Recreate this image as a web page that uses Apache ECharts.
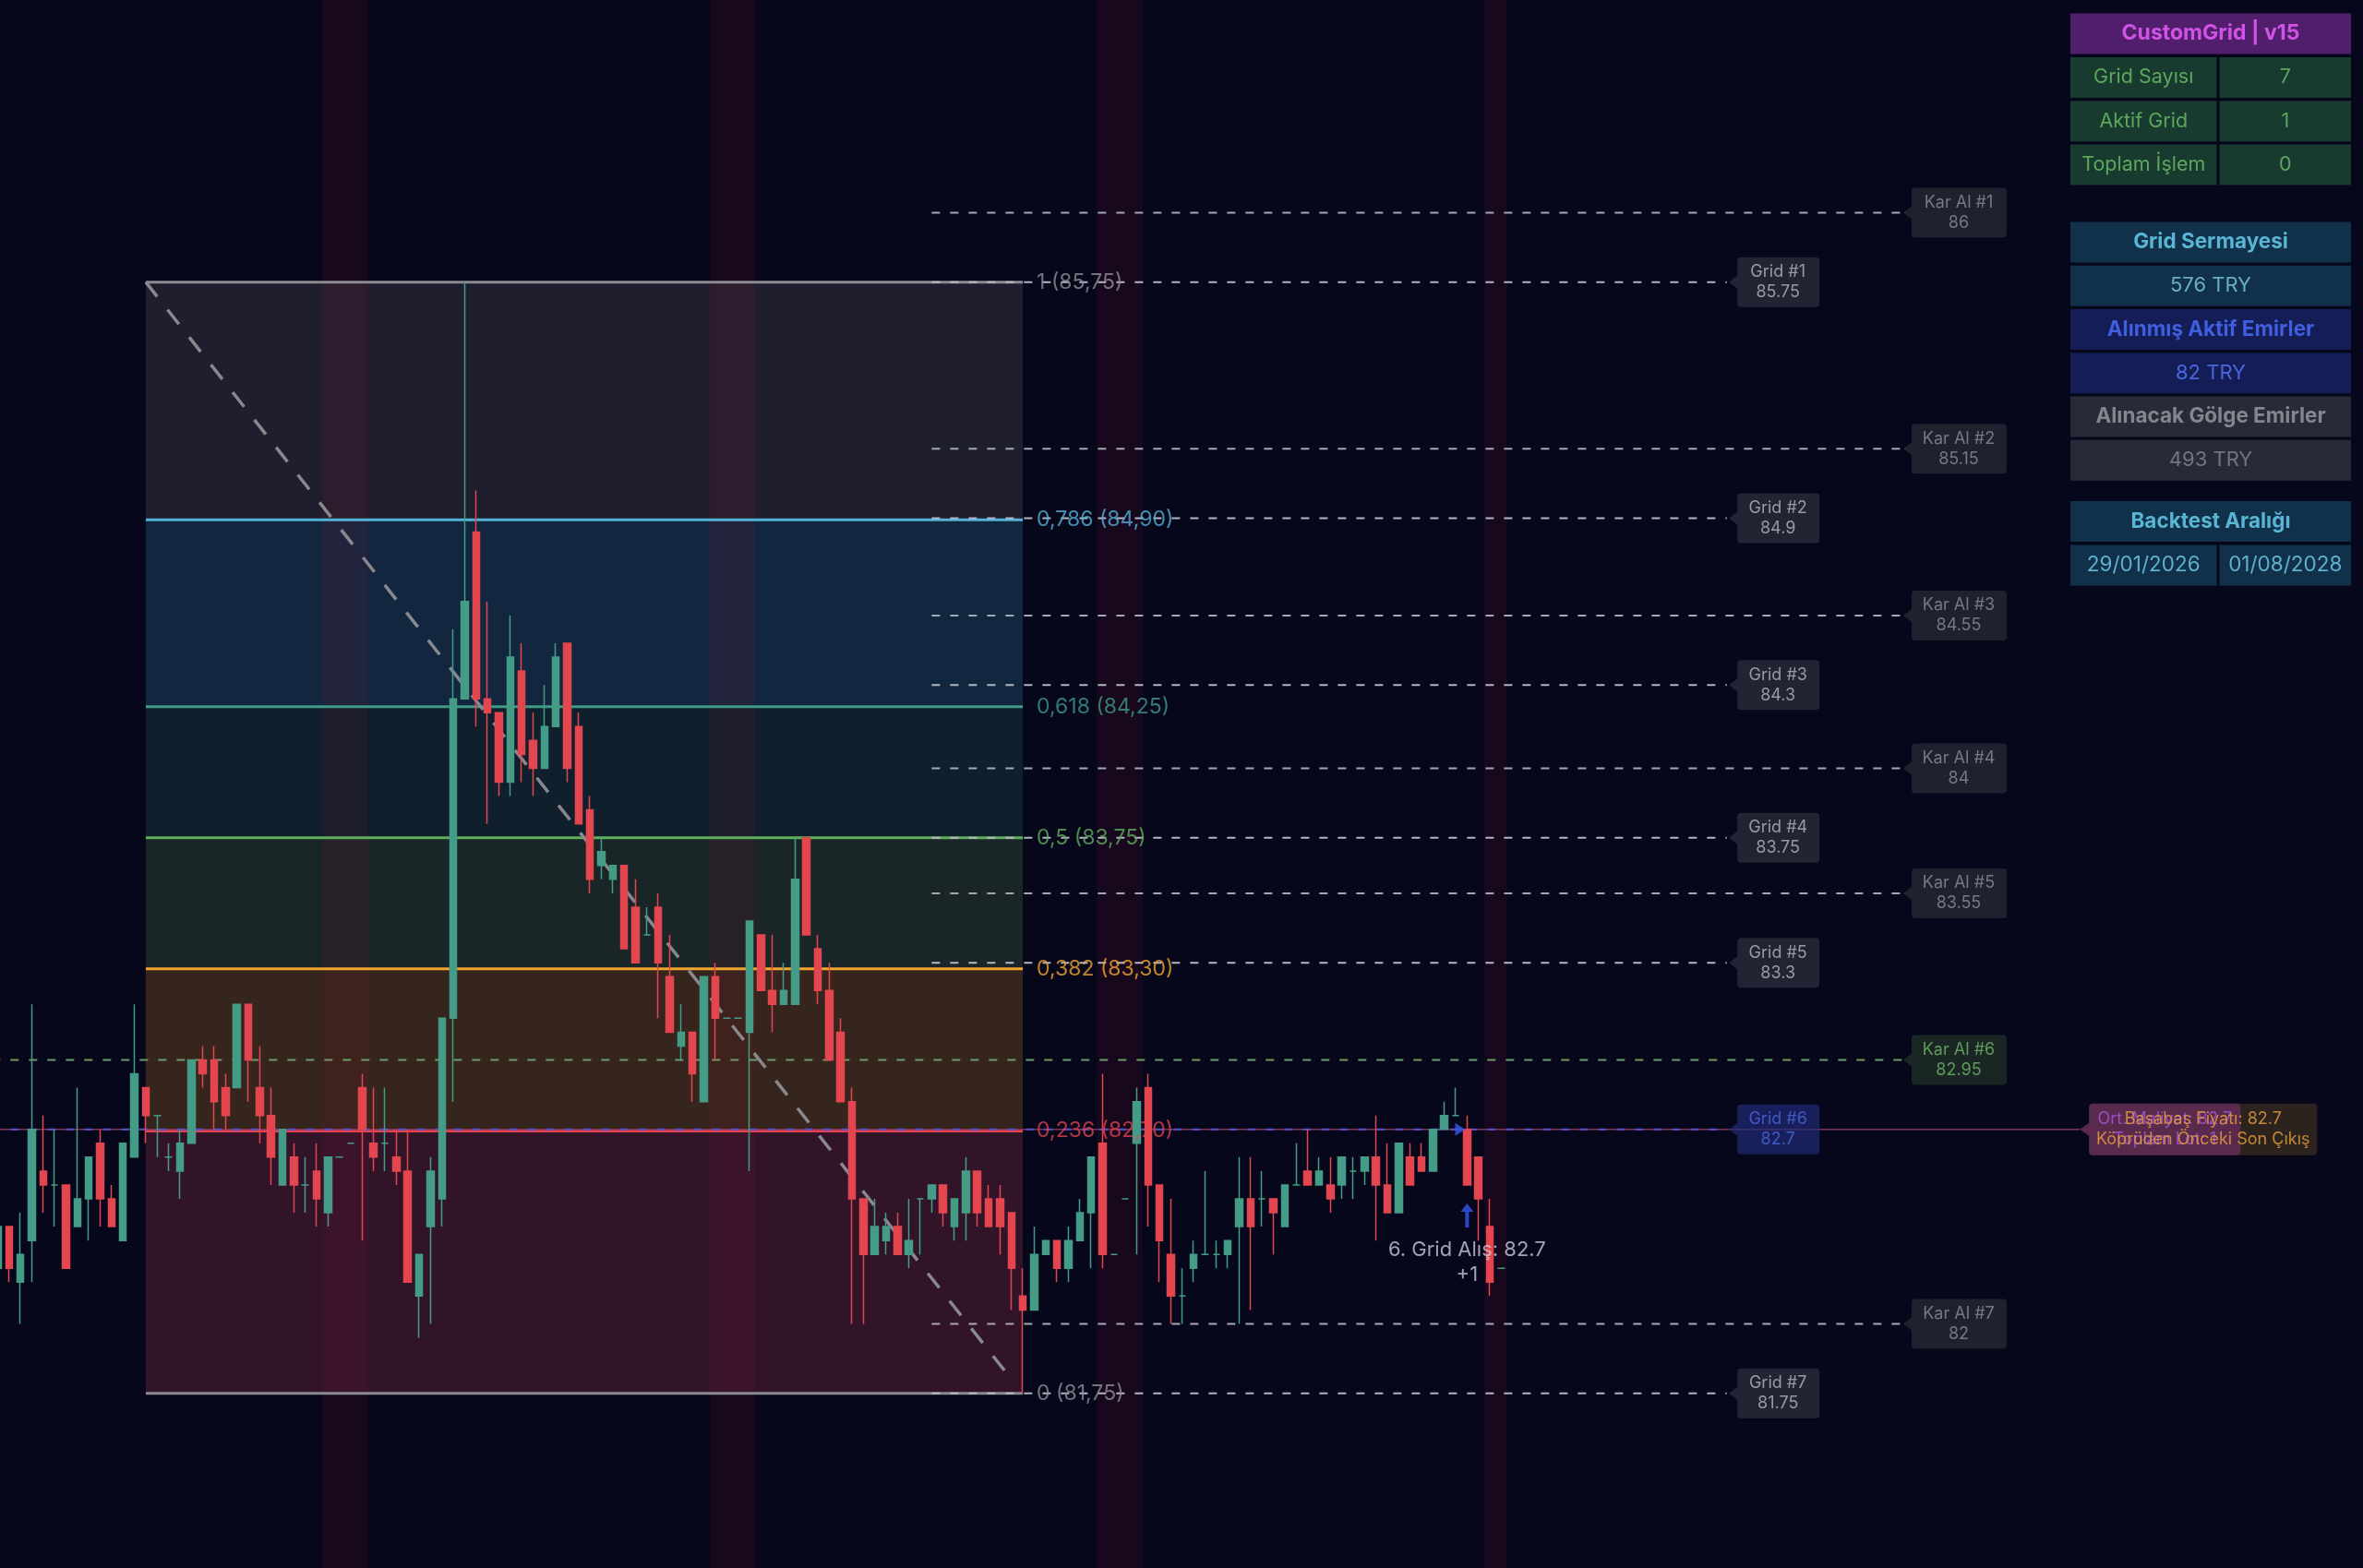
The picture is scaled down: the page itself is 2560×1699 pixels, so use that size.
<!DOCTYPE html>
<html><head><meta charset="utf-8">
<script src="https://cdn.jsdelivr.net/npm/echarts@6/dist/echarts.min.js"></script>
<style>html,body{margin:0;padding:0;background:#06071a;overflow:hidden}#c{width:2560px;height:1699px}</style>
</head><body><div id="c"></div><script>
// ---------------- DATA ----------------
const opens  = [82.20,82.35,82.15,82.30,82.55,82.50,82.50,82.35,82.45,82.65,82.45,82.30,82.60,82.85,82.75,82.60,82.55,82.65,82.95,82.95,82.85,82.85,83.15,82.85,82.75,82.50,82.60,82.50,82.55,82.40,82.60,82.65,82.85,82.65,82.65,82.60,82.55,82.10,82.35,82.45,83.10,84.25,84.85,84.25,84.20,83.95,84.35,84.10,84.00,84.15,84.45,84.15,83.85,83.65,83.60,83.65,83.50,83.40,83.50,83.25,83.00,83.05,82.80,83.25,83.10,83.10,83.05,83.40,83.20,83.15,83.15,83.75,83.35,83.20,83.05,82.80,82.45,82.25,82.30,82.35,82.25,82.45,82.45,82.50,82.35,82.40,82.55,82.45,82.45,82.40,82.10,82.05,82.25,82.30,82.20,82.30,82.40,82.65,82.25,82.45,82.65,82.85,82.50,82.25,82.10,82.20,82.25,82.25,82.25,82.35,82.45,82.45,82.45,82.35,82.50,82.55,82.50,82.50,82.50,82.55,82.55,82.60,82.50,82.40,82.60,82.60,82.55,82.70,82.75,82.70,82.60,82.35,82.20];
const closes = [82.35,82.20,82.25,82.70,82.50,82.50,82.20,82.45,82.60,82.45,82.35,82.65,82.90,82.75,82.75,82.60,82.65,82.95,82.90,82.80,82.75,83.15,82.95,82.75,82.60,82.70,82.50,82.50,82.45,82.60,82.60,82.65,82.70,82.60,82.65,82.55,82.15,82.25,82.55,83.10,84.25,84.60,84.25,84.20,83.95,84.40,84.05,84.00,84.15,84.40,84.00,83.80,83.60,83.70,83.65,83.35,83.30,83.40,83.30,83.05,83.05,82.90,83.25,83.10,83.10,83.10,83.45,83.20,83.15,83.20,83.60,83.40,83.20,82.95,82.80,82.45,82.25,82.35,82.35,82.25,82.30,82.45,82.50,82.40,82.45,82.55,82.40,82.35,82.35,82.20,82.05,82.25,82.30,82.20,82.30,82.40,82.60,82.25,82.25,82.45,82.80,82.50,82.30,82.10,82.10,82.25,82.25,82.25,82.30,82.45,82.35,82.45,82.40,82.50,82.50,82.50,82.55,82.45,82.60,82.55,82.60,82.50,82.40,82.65,82.50,82.55,82.70,82.75,82.75,82.50,82.45,82.15,82.20];
const lows   = [82.20,82.15,82.00,82.15,82.40,82.35,82.20,82.35,82.30,82.35,82.35,82.30,82.60,82.65,82.60,82.55,82.45,82.65,82.85,82.70,82.70,82.85,82.80,82.65,82.50,82.50,82.40,82.40,82.35,82.35,82.60,82.65,82.30,82.55,82.55,82.50,82.15,81.95,82.00,82.35,82.80,84.25,84.15,83.80,83.90,83.90,83.95,83.90,84.00,84.15,83.95,83.80,83.55,83.60,83.55,83.35,83.30,83.40,83.10,83.05,82.95,82.80,82.80,82.95,83.10,83.10,82.55,83.20,83.05,83.15,83.15,83.40,83.15,82.95,82.80,82.00,82.00,82.25,82.25,82.25,82.20,82.25,82.40,82.35,82.30,82.30,82.35,82.35,82.25,82.05,81.75,82.05,82.25,82.15,82.15,82.30,82.20,82.20,82.25,82.45,82.25,82.35,82.15,82.00,82.00,82.15,82.25,82.20,82.20,82.00,82.05,82.35,82.25,82.35,82.50,82.50,82.50,82.40,82.45,82.45,82.50,82.30,82.40,82.40,82.50,82.55,82.55,82.70,82.75,82.50,82.30,82.10,82.20];
const highs  = [82.35,82.35,82.40,83.15,82.75,82.70,82.50,82.85,82.60,82.70,82.50,82.65,83.15,82.85,82.75,82.65,82.70,82.95,83.00,83.00,82.90,83.15,83.15,83.00,82.85,82.70,82.65,82.60,82.65,82.60,82.60,82.65,82.90,82.85,82.85,82.70,82.70,82.25,82.60,83.10,84.50,85.75,85.00,84.60,84.20,84.55,84.45,84.20,84.30,84.45,84.45,84.20,83.90,83.75,83.65,83.65,83.60,83.50,83.55,83.40,83.15,83.05,83.25,83.30,83.10,83.10,83.45,83.40,83.40,83.30,83.75,83.75,83.40,83.30,83.10,82.85,82.45,82.45,82.40,82.40,82.45,82.45,82.50,82.50,82.45,82.60,82.55,82.50,82.50,82.40,82.20,82.35,82.30,82.30,82.35,82.45,82.60,82.90,82.25,82.45,82.85,82.90,82.50,82.45,82.20,82.30,82.55,82.30,82.30,82.60,82.60,82.55,82.45,82.50,82.65,82.70,82.60,82.60,82.60,82.60,82.60,82.75,82.65,82.65,82.65,82.65,82.70,82.80,82.85,82.75,82.60,82.45,82.20];

const fibLevels = [85.75, 84.894, 84.222, 83.75, 83.278, 82.694, 81.75];
const fibLabels = ['1 (85,75)', '0,786 (84,90)', '0,618 (84,25)', '0,5 (83,75)', '0,382 (83,30)', '0,236 (82,70)', '0 (81,75)'];
const gridLevels  = [85.75, 84.9, 84.3, 83.75, 83.3, 82.7, 81.75];
const karAlLevels = [86, 85.15, 84.55, 84, 83.55, 82.95, 82];
const sessionBands = [[28.5, 32.5], [62.5, 66.5], [96.5, 100.5], [130.5, 132.5]];
const buyPrice = 82.7;
const buyText = '6. Grid Alış: 82.7';
const buyCount = '+1';
const breakevenText = 'Başabaş Fiyatı: 82.7\nKöprüden Önceki Son Çıkış';
const avgCostText = 'Ort. Maliyet: 82.7\nToplam Lot: 1';

const tableTitle = 'CustomGrid | v15';
const statLabels = ['Grid Sayısı', 'Aktif Grid', 'Toplam İşlem'];
const statValues = ['7', '1', '0'];
const capitalHeaders = ['Grid Sermayesi', 'Alınmış Aktif Emirler', 'Alınacak Gölge Emirler'];
const capitalValues  = ['576 TRY', '82 TRY', '493 TRY'];
const backtestTitle = 'Backtest Aralığı';
const backtestDates = ['29/01/2026', '01/08/2028'];

// ---------------- LAYOUT / STYLE ----------------
const N_CATS = 210;
const STEP = 12.34;
const GRID_LEFT = -2.5 - STEP / 2;
const FIB_X0 = 13, FIB_X1 = 90;
const LINES_X0 = 82, GRID_X1 = 151.8, KAR_X1 = 167.2, ORT_X = 182.8;
const FONT = 'Inter, Roboto, "Noto Sans", sans-serif';
const UP = '#459c86', DOWN = '#e3464f';
const DASH = [9, 11];
const fibColors = ['#8a8a90', '#52b2d8', '#3f9a86', '#5fae5c', '#f2a431', '#e0424f', '#8a8a90'];
const zoneColors = ['#1f1e2e', '#12273f', '#0f1f2b', '#1a2527', '#36251c', '#311428'];

const cats = opens.map((_, i) => String(i));
while (cats.length < N_CATS) cats.push(String(cats.length));

const candleData = opens.map((o, i) => {
  const item = { value: [o, closes[i], lows[i], highs[i]] };
  if (o === closes[i]) item.itemStyle = { color: UP, borderColor: UP, color0: UP, borderColor0: UP };
  return item;
});

function hLine(x0, x1, y, color, width, type, z) {
  return { type: 'line', xAxisIndex: 1, yAxisIndex: 0, data: [[x0, y], [x1, y]], symbol: 'none',
    silent: true, z: z, animation: false, lineStyle: { color: color, width: width, type: type } };
}

const series = [];
series.push({ type: 'line', xAxisIndex: 1, data: [], z: 1, silent: true,
  markArea: { silent: true, data: zoneColors.map((c, i) => [
    { xAxis: FIB_X0, yAxis: fibLevels[i], itemStyle: { color: c, opacity: 1 } },
    { xAxis: FIB_X1, yAxis: fibLevels[i + 1] }]) } });
series.push({ type: 'line', xAxisIndex: 1, data: [], z: 2, silent: true,
  markArea: { silent: true, data: sessionBands.map(b => [
    { xAxis: b[0], itemStyle: { color: 'rgba(120,22,48,0.15)' } }, { xAxis: b[1] }]) } });
fibLevels.forEach((p, i) => series.push(hLine(FIB_X0, FIB_X1, p, fibColors[i], 3, 'solid', 3)));
series.push({ type: 'line', xAxisIndex: 1, data: [[FIB_X0, fibLevels[0]], [89.2, 81.79]], symbol: 'none', z: 3,
  silent: true, lineStyle: { color: '#88888e', width: 3.5, type: [20, 18] } });
gridLevels.forEach((p, i) => {
  if (i === 5) return;
  series.push(hLine(LINES_X0, GRID_X1, p, '#b3b7c3', 2, DASH, 4));
});
karAlLevels.forEach((p, i) => {
  if (i === 5) series.push(hLine(-0.5, KAR_X1, p, '#6f9a68', 2, DASH, 4));
  else series.push(hLine(LINES_X0, KAR_X1, p, '#a4a8b4', 2, DASH, 4));
});
series.push(hLine(-0.5, ORT_X, buyPrice, '#7e3458', 1.5, 'solid', 4));
series.push(hLine(-0.5, GRID_X1, gridLevels[5], '#5752c8', 2, DASH, 5));

series.push({ type: 'candlestick', xAxisIndex: 0, yAxisIndex: 0, data: candleData, z: 6, barWidth: 8,
  silent: true, itemStyle: { color: UP, color0: DOWN, borderColor: UP, borderColor0: DOWN, borderWidth: 1.5 } });

series.push({ type: 'scatter', xAxisIndex: 1, symbolSize: 0, z: 7, silent: true,
  data: fibLevels.map((p, i) => ({ value: [FIB_X1, p], label: { color: fibColors[i] === '#8a8a90' ? '#8f8f95' : fibColors[i] } })),
  label: { show: true, position: 'right', distance: 15, fontSize: 23, fontFamily: FONT,
    formatter: (d) => fibLabels[d.dataIndex] } });

function boxPath(w, h, a) {
  const r = 4, m = h / 2;
  return `path://M0,${m}L${a},${m - 7}L${a},${r}Q${a},0,${a + r},0L${w - r},0Q${w},0,${w},${r}L${w},${h - r}Q${w},${h},${w - r},${h}L${a + r},${h}Q${a},${h},${a},${h - r}L${a},${m + 7}Z`;
}
series.push({ type: 'scatter', xAxisIndex: 1, z: 8, silent: true,
  symbol: boxPath(98, 54, 9), symbolSize: [98, 54], symbolOffset: [49, 0], symbolKeepAspect: false,
  data: gridLevels.map((p, i) => ({ value: [GRID_X1 + 0.2, p],
    itemStyle: i === 5 ? { color: 'rgba(32,44,120,0.85)' } : { color: '#2a2c3a' },
    label: { color: i === 5 ? '#4d66dd' : '#b4b7c2' } })),
  label: { show: true, position: 'inside', offset: [4, 0], fontSize: 18, lineHeight: 22, fontFamily: FONT,
    formatter: (d) => 'Grid #' + (d.dataIndex + 1) + '\n' + gridLevels[d.dataIndex] } });
series.push({ type: 'scatter', xAxisIndex: 1, z: 8, silent: true,
  symbol: boxPath(112, 54, 9), symbolSize: [112, 54], symbolOffset: [56, 0], symbolKeepAspect: false,
  data: karAlLevels.map((p, i) => ({ value: [KAR_X1 + 0.1, p],
    itemStyle: { color: i === 5 ? '#1f2e27' : '#262833' },
    label: { color: i === 5 ? '#6fb86a' : '#8c8f9a' } })),
  label: { show: true, position: 'inside', offset: [4, 0], fontSize: 18, lineHeight: 22, fontFamily: FONT,
    formatter: (d) => 'Kar Al #' + (d.dataIndex + 1) + '\n' + karAlLevels[d.dataIndex] } });
series.push({ type: 'scatter', xAxisIndex: 1, z: 9, silent: true,
  symbol: boxPath(257, 56, 10), symbolSize: [257, 56], symbolOffset: [128.5, 0], symbolKeepAspect: false,
  itemStyle: { color: '#372a1f' }, data: [[ORT_X, buyPrice]] });
series.push({ type: 'scatter', xAxisIndex: 1, z: 10, silent: true,
  symbol: boxPath(174, 56, 10), symbolSize: [174, 56], symbolOffset: [87, 0], symbolKeepAspect: false,
  itemStyle: { color: 'rgba(110,46,96,0.85)' }, data: [[ORT_X, buyPrice]],
  label: { show: true, position: 'inside', offset: [5, 0], color: '#a957df', fontSize: 18, lineHeight: 22,
    fontFamily: FONT, formatter: avgCostText } });
series.push({ type: 'scatter', xAxisIndex: 1, z: 11, silent: true,
  symbol: boxPath(257, 56, 10), symbolSize: [257, 56], symbolOffset: [128.5, 0], symbolKeepAspect: false,
  itemStyle: { color: 'rgba(0,0,0,0)' }, data: [[ORT_X, buyPrice]],
  label: { show: true, position: 'inside', offset: [5, 0], color: '#e9a13d', fontSize: 18, lineHeight: 22,
    fontFamily: FONT, formatter: breakevenText } });
series.push({ type: 'scatter', xAxisIndex: 1, z: 12, silent: true,
  symbol: 'path://M0,0L11,7L0,14Z', symbolSize: [11, 14], itemStyle: { color: '#3557f0' },
  data: [[128.4, buyPrice]] });
series.push({ type: 'scatter', xAxisIndex: 1, z: 12, silent: true,
  symbol: 'path://M7,0L14,9L9,9L9,26L5,26L5,9L0,9Z', symbolSize: [14, 26], itemStyle: { color: '#3557f0' },
  data: [[129, 82.39]] });
series.push({ type: 'scatter', xAxisIndex: 1, z: 12, silent: true, symbolSize: 0,
  data: [{ value: [129, 82.265], label: { formatter: buyText } }, { value: [129, 82.175], label: { formatter: buyCount } }],
  label: { show: true, position: 'inside', color: '#c9cbd3', fontSize: 22, fontFamily: FONT } });

// ---------------- TABLE (graphic) ----------------
const graphic = [];
const TX0 = 2243, TX1 = 2547, TMID = 2403, RH = 44;
function cell(x0, x1, y, bg, text, color, bold, size) {
  graphic.push({ type: 'rect', shape: { x: x0, y: y, width: x1 - x0, height: RH }, style: { fill: bg }, z: 100, silent: true });
  graphic.push({ type: 'text', x: (x0 + x1) / 2, y: y + RH / 2, z: 101, silent: true,
    style: { text: text, fill: color, font: (bold ? 'bold ' : '') + (size || 22) + 'px ' + FONT, align: 'center', verticalAlign: 'middle' } });
}
cell(TX0, TX1, 14.5, '#511e6c', tableTitle, '#cf54e6', true, 23);
statLabels.forEach((t, i) => {
  const y = 62 + i * 47.3;
  cell(TX0, TMID - 1.5, y, '#183a2f', t, '#5da75d', false, 21.5);
  cell(TMID + 1.5, TX1, y, '#183a2f', statValues[i], '#5da75d', false, 21.5);
});
const capBg = ['#11304a', '#151d56', '#292a37'];
const capHead = ['#58b5d3', '#3f5fe0', '#85858f'];
const capVal = ['#6aaec6', '#4a66de', '#74747e'];
capitalHeaders.forEach((t, i) => {
  const y = 240.5 + i * 94.5;
  cell(TX0, TX1, y, capBg[i], t, capHead[i], true, 22.5);
  cell(TX0, TX1, y + 47.3, capBg[i], capitalValues[i], capVal[i], false, 22);
});
cell(TX0, TX1, 543, '#11304a', backtestTitle, '#58b5d3', true, 22.5);
cell(TX0, TMID - 1.5, 590.5, '#11304a', backtestDates[0], '#5fb0cf', false, 22.5);
cell(TMID + 1.5, TX1, 590.5, '#11304a', backtestDates[1], '#5fb0cf', false, 22.5);

const chart = echarts.init(document.getElementById('c'), null, { renderer: 'canvas' });
chart.setOption({
  backgroundColor: '#06071a',
  animation: false,
  grid: { left: GRID_LEFT, top: 0, width: STEP * N_CATS, height: 1699, containLabel: false, outerBoundsMode: 'none' },
  xAxis: [
    { type: 'category', data: cats, boundaryGap: true, show: false },
    { type: 'value', min: -0.5, max: N_CATS - 0.5, show: false }
  ],
  yAxis: { type: 'value', min: 81.1211, max: 86.7656, show: false, splitLine: { show: false } },
  series: series,
  graphic: graphic
});
</script></body></html>
